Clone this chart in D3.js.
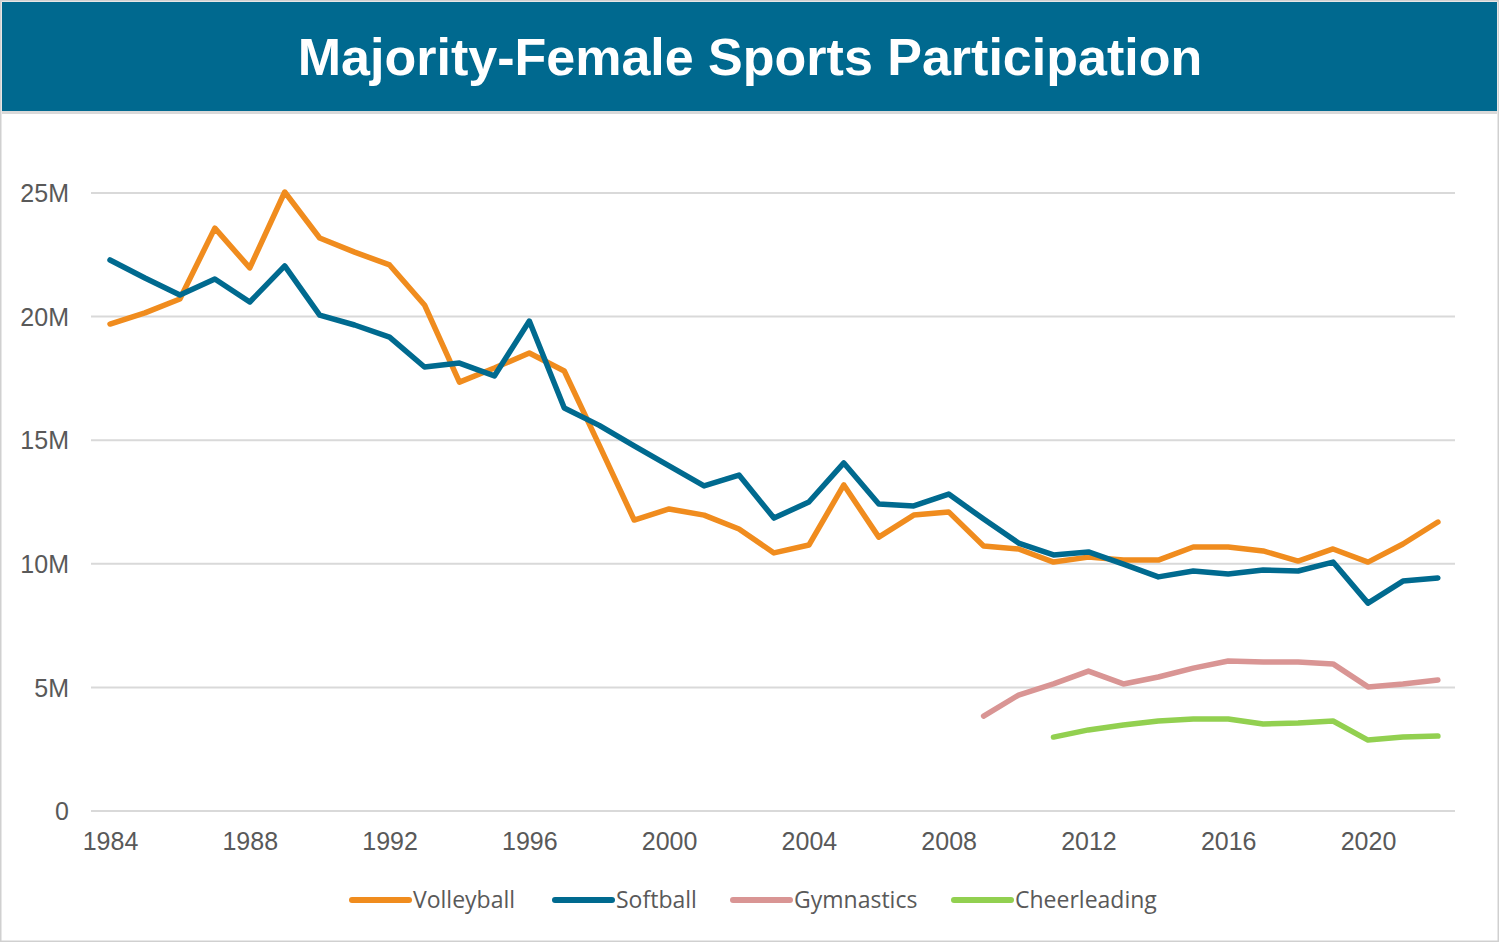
<!DOCTYPE html>
<html>
<head>
<meta charset="utf-8">
<script src="https://cdn.jsdelivr.net/npm/d3@7"></script>
<style>
  html, body { margin: 0; padding: 0; background: #fff; }
  svg { display: block; }
</style>
</head>
<body>
<svg id="chart" width="1499" height="942"></svg>
<script>
const years = d3.range(1984, 2023);
const volleyball = [19.70,20.15,20.71,23.58,21.97,25.04,23.18,22.61,22.09,20.47,17.35,17.92,18.53,17.80,14.80,11.77,12.22,11.97,11.41,10.44,10.76,13.19,11.08,11.97,12.10,10.72,10.60,10.07,10.27,10.15,10.15,10.68,10.68,10.52,10.11,10.60,10.07,10.80,11.69];
const softball = [22.29,21.56,20.87,21.52,20.59,22.05,20.06,19.66,19.17,17.96,18.12,17.60,19.82,16.30,15.60,14.77,13.96,13.15,13.59,11.85,12.50,14.08,12.42,12.34,12.82,11.81,10.84,10.36,10.48,9.99,9.47,9.71,9.59,9.75,9.71,10.07,8.41,9.30,9.43];
const gymYears = d3.range(2009, 2023);
const gymnastics = [3.84,4.69,5.14,5.66,5.14,5.42,5.78,6.07,6.03,6.03,5.95,5.02,5.14,5.30];
const cheerYears = d3.range(2011, 2023);
const cheerleading = [2.99,3.28,3.48,3.64,3.72,3.72,3.52,3.56,3.64,2.87,2.99,3.03];
const yTicks = [0,5,10,15,20,25];
const xTicks = [1984,1988,1992,1996,2000,2004,2008,2012,2016,2020];
const seriesNames = ["Volleyball","Softball","Gymnastics","Cheerleading"];
const seriesColors = ["#f08c1e","#006a8f","#d99594","#92d050"];

const series = [
  {name: seriesNames[0], color: seriesColors[0], pts: years.map((y,i)=>[y, volleyball[i]])},
  {name: seriesNames[1], color: seriesColors[1], pts: years.map((y,i)=>[y, softball[i]])},
  {name: seriesNames[2], color: seriesColors[2], pts: gymYears.map((y,i)=>[y, gymnastics[i]])},
  {name: seriesNames[3], color: seriesColors[3], pts: cheerYears.map((y,i)=>[y, cheerleading[i]])}
];

const svg = d3.select("#chart");
const W = 1499, H = 942;

// outer border
svg.append("rect").attr("x",0.5).attr("y",0.5).attr("width",W-1).attr("height",H-1)
  .attr("fill","#fff").attr("stroke","#d0d0d0").attr("stroke-width",2);

// title banner
svg.append("rect").attr("x",2).attr("y",2).attr("width",W-4).attr("height",109).attr("fill","#00698f");
svg.append("rect").attr("x",2).attr("y",111).attr("width",W-4).attr("height",3).attr("fill","#d9d9d9");
svg.append("text").attr("x",750).attr("y",75).attr("text-anchor","middle")
  .attr("font-family","Liberation Sans, Arial, sans-serif").attr("font-weight","bold")
  .attr("font-size",52).attr("fill","#fff").text("Majority-Female Sports Participation");

const x = d3.scaleLinear().domain([1984, 2020]).range([110, 1368]);
const y = d3.scaleLinear().domain([0, 25]).range([811, 193]);

// gridlines
const grid = svg.append("g");
grid.selectAll("line").data(yTicks).join("line")
  .attr("x1",91).attr("x2",1455)
  .attr("y1",d=>y(d)).attr("y2",d=>y(d))
  .attr("stroke","#d9d9d9").attr("stroke-width",2);

// y labels
const yAxis = d3.axisLeft(y).tickValues(yTicks).tickSize(0).tickPadding(0)
  .tickFormat(d => d === 0 ? "0" : d + "M");
const yg = svg.append("g").attr("transform","translate(69,0)").call(yAxis);
yg.select(".domain").remove();
yg.selectAll("text").attr("font-family","Liberation Sans, Arial, sans-serif")
  .attr("font-size",25).attr("fill","#595959").attr("dy","0.35em");

// x labels
const xAxis = d3.axisBottom(x).tickValues(xTicks).tickSize(0).tickPadding(0).tickFormat(d3.format("d"));
const xg = svg.append("g").attr("transform","translate(0,829)").call(xAxis);
xg.select(".domain").remove();
xg.selectAll("text").attr("font-family","Liberation Sans, Arial, sans-serif")
  .attr("font-size",25).attr("fill","#595959").attr("dy","0.85em");

// lines
const line = d3.line().x(d=>x(d[0])).y(d=>y(d[1]));
svg.append("g").selectAll("path").data(series).join("path")
  .attr("d", d=>line(d.pts))
  .attr("fill","none").attr("stroke",d=>d.color)
  .attr("stroke-width",5.5).attr("stroke-linejoin","round").attr("stroke-linecap","round");

// legend
const legendX = [352, 555, 733, 954];
const lg = svg.append("g");
series.forEach((s,i)=>{
  const g = lg.append("g").attr("transform",`translate(${legendX[i]},900)`);
  g.append("line").attr("x1",0).attr("x2",57).attr("y1",0).attr("y2",0)
    .attr("stroke",s.color).attr("stroke-width",6).attr("stroke-linecap","round");
  g.append("text").attr("x",61).attr("y",0).attr("dy","0.35em")
    .attr("font-family","Open Sans, Carlito, sans-serif").attr("font-size",23)
    .attr("fill","#595959").text(s.name);
});
</script>
</body>
</html>
